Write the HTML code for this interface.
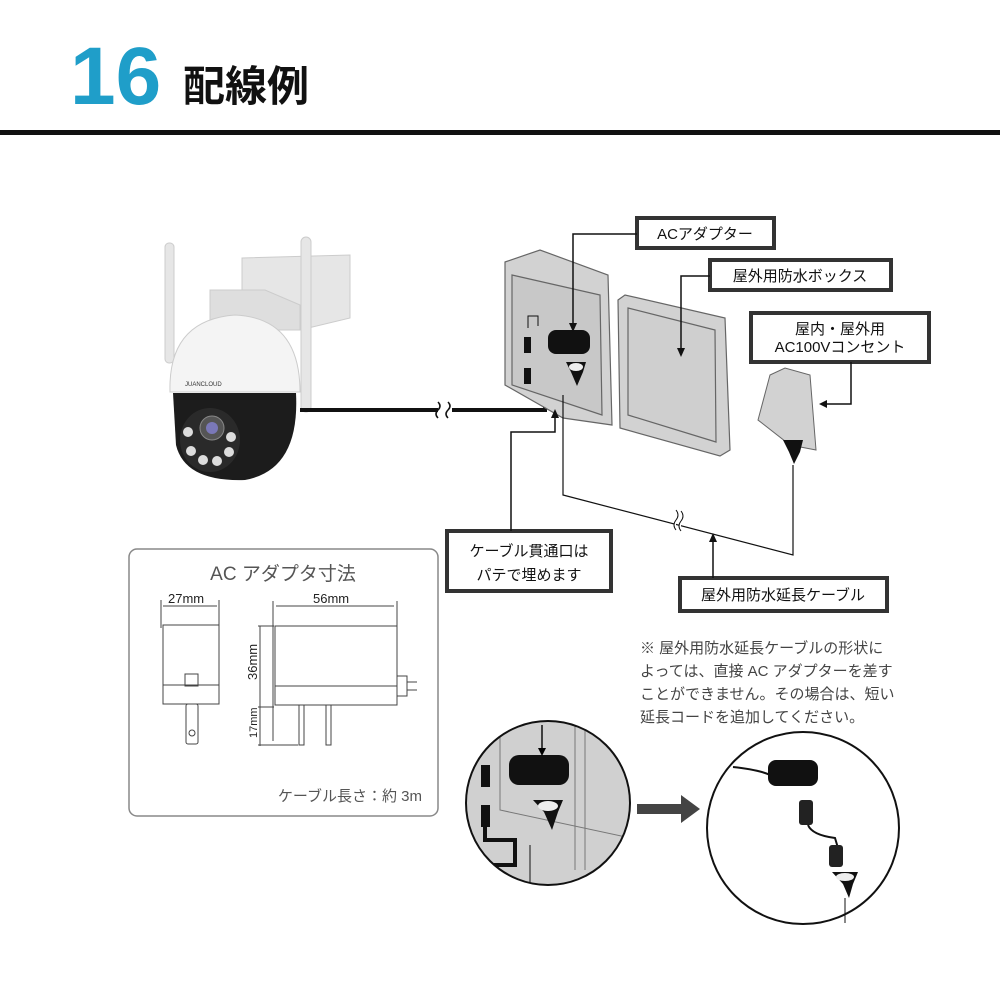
<!DOCTYPE html>
<html><head><meta charset="utf-8"><style>
html,body{margin:0;padding:0;background:#fff;}
svg{display:block;}
text{font-family:"Liberation Sans","Noto Sans CJK JP",sans-serif;}
</style></head><body>
<svg width="1000" height="1001" viewBox="0 0 1000 1001" xmlns="http://www.w3.org/2000/svg">
<!-- header -->
<text x="70" y="104" font-size="82" font-weight="bold" fill="#1f9ec9">16</text>
<text x="183" y="101" font-size="42" font-weight="bold" fill="#111">配線例</text>
<rect x="0" y="130" width="1000" height="5" fill="#111"/>

<!-- camera -->
<g>
<rect x="165" y="243" width="9" height="120" rx="4" fill="#e6e6e6" stroke="#ccc"/>
<path d="M242 258 L350 255 L350 318 L300 330 L242 318 Z" fill="#e6e6e6" stroke="#ccc"/>
<path d="M210 290 L265 290 L300 305 L300 330 L210 330 Z" fill="#dedede" stroke="#ccc"/>
<path d="M170 392 Q168 320 235 315 Q300 318 300 392 Z" fill="#f4f4f4" stroke="#ccc"/>
<rect x="301" y="237" width="10" height="175" rx="5" fill="#e6e6e6" stroke="#ccc"/>
<text x="185" y="386" font-size="6" fill="#333">JUANCLOUD</text>
<path d="M173 393 L296 393 Q300 470 245 480 Q185 482 176 445 Z" fill="#1c1c1c"/>
<ellipse cx="210" cy="440" rx="30" ry="32" fill="#2a2a2a"/>
<circle cx="212" cy="428" r="12" fill="#555" stroke="#888"/>
<circle cx="212" cy="428" r="6" fill="#7a78b8"/>
<circle cx="188" cy="432" r="5" fill="#ddd"/><circle cx="231" cy="437" r="5" fill="#ddd"/>
<circle cx="191" cy="451" r="5" fill="#ddd"/><circle cx="203" cy="460" r="5" fill="#ddd"/>
<circle cx="217" cy="461" r="5" fill="#ddd"/><circle cx="229" cy="452" r="5" fill="#ddd"/>
</g>
<!-- camera cable -->
<path d="M300 410 L438 410 M452 410 L545 410 L545 387 L528 387" stroke="#111" stroke-width="4" fill="none"/>
<path d="M438 402 q4 4 0 8 q-4 4 0 8 M448 402 q4 4 0 8 q-4 4 0 8" stroke="#111" stroke-width="1.5" fill="none"/>

<!-- box -->
<g stroke="#666" stroke-width="1.2" fill="#d2d2d2">
<path d="M505 262 L540 250 L608 275 L612 425 L563 418 L505 385 Z"/>
<path d="M512 275 L600 295 L602 415 L512 385 Z" fill="#c8c8c8"/>
<path d="M618 300 L625 295 L725 318 L730 450 L720 456 L620 428 Z"/>
<path d="M628 308 L715 330 L716 442 L628 415 Z" fill="#cfcfcf"/>
</g>
<rect x="548" y="330" width="42" height="24" rx="8" fill="#111"/>
<path d="M566 362 h20 l-3 10 l-6 14 l-6-14 z" fill="#111"/><ellipse cx="576" cy="367" rx="7" ry="4" fill="#eee"/>
<rect x="524" y="337" width="7" height="16" fill="#111"/><rect x="524" y="368" width="7" height="16" fill="#111"/>
<path d="M528 328 v-12 h10 v10" stroke="#111" fill="none"/>
<path d="M563 395 v100 L793 555 L793 465" stroke="#111" stroke-width="1.2" fill="none"/>
<path d="M676 510 q4 5 0 10 q-4 5 0 10 M681 511 q4 5 0 10 q-4 5 0 10" stroke="#111" fill="#fff"/>
<!-- outlet -->
<path d="M770 375 L785 368 L810 375 L816 450 L790 445 L758 420 Z" fill="#d2d2d2" stroke="#666"/>
<path d="M783 440 h20 l-3 12 l-6 12 l-5 -12 z" fill="#111"/>

<!-- labels boxes -->
<g fill="#fff" stroke="#333" stroke-width="4">
<rect x="637" y="218" width="137" height="30"/>
<rect x="710" y="260" width="181" height="30"/>
<rect x="751" y="313" width="178" height="49"/>
<rect x="447" y="531" width="164" height="60"/>
<rect x="680" y="578" width="207" height="33"/>
</g>
<g font-size="15" fill="#111" text-anchor="middle">
<text x="705" y="239">ACアダプター</text>
<text x="800" y="281">屋外用防水ボックス</text>
<text x="840" y="334">屋内・屋外用</text>
<text x="840" y="352">AC100Vコンセント</text>
<text x="529" y="556">ケーブル貫通口は</text>
<text x="529" y="580">パテで埋めます</text>
<text x="783" y="600">屋外用防水延長ケーブル</text>
</g>
<!-- leaders -->
<g stroke="#111" stroke-width="1.5" fill="none">
<path d="M637 234 H573 V325"/>
<path d="M710 276 H681 V350"/>
<path d="M851 362 V404 H825"/>
<path d="M511 531 V432 H555 V415"/>
<path d="M713 578 V540"/>
</g>
<g fill="#111">
<path d="M569 323 l4 9 l4 -9z"/><path d="M677 348 l4 9 l4 -9z"/>
<path d="M827 400 l-8 4 l8 4z"/><path d="M551 418 l4 -9 l4 9z"/>
<path d="M709 542 l4 -9 l4 9z"/>
</g>

<!-- AC adapter dimensions panel -->
<rect x="129" y="549" width="309" height="267" rx="8" fill="#fff" stroke="#888" stroke-width="1.5"/>
<text x="283" y="580" font-size="19" fill="#555" text-anchor="middle">AC アダプタ寸法</text>
<g stroke="#444" stroke-width="1" fill="none">
<path d="M161 600 v28 M219 600 v28 M163 606 h54"/>
<path d="M273 601 v140 M397 601 v30 M276 606 h118"/>
<path d="M260 626 v120 M258 626 h16 M258 707 h16 M258 745 h40"/>
<rect x="163" y="625" width="56" height="79" fill="#fff"/>
<path d="M163 685 h56"/><rect x="185" y="674" width="13" height="12"/>
<rect x="186" y="704" width="12" height="40" rx="2"/><circle cx="192" cy="733" r="3"/>
<rect x="275" y="626" width="122" height="79" fill="#fff"/>
<path d="M275 686 h122"/><rect x="397" y="676" width="10" height="20"/><path d="M407 682 h10 M407 690 h10"/>
<rect x="299" y="705" width="5" height="40"/><rect x="326" y="705" width="5" height="40"/>
</g>
<g font-size="13" fill="#222">
<text x="168" y="603">27mm</text>
<text x="313" y="603">56mm</text>
<text transform="translate(257,680) rotate(-90)">36mm</text>
<text transform="translate(257,738) rotate(-90)" font-size="11">17mm</text>
</g>
<text x="422" y="801" font-size="15" fill="#555" text-anchor="end">ケーブル長さ：約 3m</text>

<!-- note -->
<g font-size="15" fill="#444">
<text x="640" y="653">※ 屋外用防水延長ケーブルの形状に</text>
<text x="640" y="676">よっては、直接 AC アダプターを差す</text>
<text x="640" y="699">ことができません。その場合は、短い</text>
<text x="640" y="722">延長コードを追加してください。</text>
</g>

<!-- left circle -->
<defs><clipPath id="c1"><circle cx="548" cy="803" r="82"/></clipPath></defs>
<g clip-path="url(#c1)">
<rect x="460" y="715" width="180" height="180" fill="#d0d0d0"/>
<path d="M500 715 L500 810 L640 840" stroke="#777" fill="none"/>
<path d="M575 715 L575 870 M585 715 L585 870" stroke="#777" fill="none"/>
<rect x="509" y="755" width="60" height="30" rx="10" fill="#111"/>
<path d="M533 800 h30 l-5 12 l-6 18 l-8 -18z" fill="#111"/><ellipse cx="548" cy="806" rx="10" ry="5" fill="#eee"/>
<rect x="481" y="765" width="9" height="22" fill="#111"/><rect x="481" y="805" width="9" height="22" fill="#111"/>
<path d="M485 825 v15 h30 v25 h-60" stroke="#111" stroke-width="4" fill="none"/>
<path d="M530 845 v50" stroke="#111" fill="none"/>
<path d="M542 725 v25" stroke="#111" stroke-width="1.5"/><path d="M538 748 l4 8 l4 -8z"/>
</g>
<circle cx="548" cy="803" r="82" fill="none" stroke="#111" stroke-width="2"/>
<!-- arrow -->
<path d="M637 804 h44 v-9 l19 14 l-19 14 v-9 h-44z" fill="#444"/>
<!-- right circle -->
<circle cx="803" cy="828" r="96" fill="#fff" stroke="#111" stroke-width="2"/>
<path d="M733 767 Q760 770 770 775" stroke="#111" stroke-width="2" fill="none"/>
<rect x="768" y="760" width="50" height="26" rx="8" fill="#111"/>
<rect x="799" y="800" width="14" height="25" rx="3" fill="#222"/>
<path d="M808 825 Q812 835 835 838 L838 848" stroke="#111" stroke-width="2" fill="none"/>
<rect x="829" y="845" width="14" height="22" rx="3" fill="#222"/>
<path d="M832 872 h26 l-5 12 l-4 14 l-6 -14z" fill="#111"/><ellipse cx="845" cy="877" rx="9" ry="4" fill="#eee"/>
<path d="M845 898 v25" stroke="#111"/>
</svg>
</body></html>
